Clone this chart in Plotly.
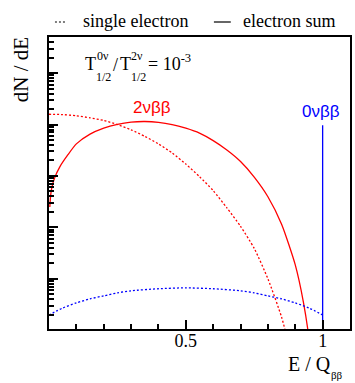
import plotly.graph_objects as go

# ---------------- data ----------------
# 2nu bb electron-sum spectrum (red solid)
sum2_E = [0.003, 0.006, 0.01, 0.02, 0.04, 0.07, 0.1, 0.15, 0.2, 0.25, 0.3, 0.35,
          0.4, 0.45, 0.5, 0.55, 0.6, 0.65, 0.7, 0.75, 0.8, 0.85, 0.9, 0.93, 0.95, 0.97]
sum2_y = [25, 42, 58, 90, 152, 262, 420, 650, 850, 1010, 1115, 1144,
          1105, 1000, 847, 680, 487, 320, 191, 95, 39.4, 11.5, 1.86, 0.346, 0.0703, 0.0058]

# 2nu bb single-electron spectrum (red dotted)
single2_E = [0.0, 0.05, 0.1, 0.15, 0.2, 0.25, 0.3, 0.35, 0.4, 0.45, 0.5, 0.55, 0.6,
             0.65, 0.7, 0.75, 0.8, 0.85, 0.87, 0.9]
single2_y = [1585, 1560, 1480, 1350, 1200, 1000, 790, 590, 420, 280, 170, 97, 52,
             24, 10.5, 3.9, 1.0, 0.18, 0.07, 0.01]

# 0nu bb single-electron spectrum (blue dotted)
single0_E = [0.0, 0.05, 0.1, 0.15, 0.2, 0.25, 0.3, 0.4, 0.5, 0.6, 0.7, 0.75, 0.8,
             0.85, 0.9, 0.95, 1.0]
single0_y = [0.198, 0.271, 0.340, 0.408, 0.466, 0.533, 0.585, 0.641, 0.667, 0.641,
             0.585, 0.533, 0.466, 0.408, 0.340, 0.271, 0.198]

# 0nu bb electron-sum peak (blue solid line at Q)
sum0_E = [1.0, 1.0]
sum0_y = [0.01, 967]

x_major = [0.5, 1.0]
x_major_text = ["0.5", "1"]
x_minor = [0.1, 0.2, 0.3, 0.4, 0.6, 0.7, 0.8, 0.9]
y_major = [1, 10, 100, 1000, 10000]
y_minor = [m * 10 ** d for d in range(-1, 5) for m in range(2, 10)]

# ---------------- figure ----------------
W, H = 355, 383
L, R, T, B = 49, 352, 37, 329
def px(x):
    return (x - L) / (R - L)
def py(y):
    return (B - y) / (B - T)

SERIF = "'Liberation Serif', 'Times New Roman', Times, 'DejaVu Serif', serif"
SANS = "'Liberation Sans', Arial, 'DejaVu Sans', sans-serif"

fig = go.Figure()
fig.add_trace(go.Scatter(x=sum2_E, y=sum2_y, mode="lines",
                         line=dict(color="#ff0000", width=1.3, shape="spline", smoothing=0.6)))
fig.add_trace(go.Scatter(x=single2_E, y=single2_y, mode="lines",
                         line=dict(color="#ff0000", width=1.3, dash="2px,2px",
                                   shape="spline", smoothing=0.6)))
fig.add_trace(go.Scatter(x=single0_E, y=single0_y, mode="lines",
                         line=dict(color="#0000ff", width=1.3, dash="2px,2px",
                                   shape="spline", smoothing=0.6)))
fig.add_trace(go.Scatter(x=sum0_E, y=sum0_y, mode="lines",
                         line=dict(color="#0000ff", width=1.3)))

fig.update_layout(
    width=W, height=H, showlegend=False,
    margin=dict(l=L, r=W - R, t=T, b=H - B, pad=0),
    paper_bgcolor="white", plot_bgcolor="white",
    font=dict(family=SERIF, size=18, color="black"),
)
fig.update_xaxes(range=[0, 1.1], showgrid=False, zeroline=False,
                 showline=True, linecolor="black", linewidth=2, mirror=True,
                 ticks="inside", ticklen=9, tickwidth=1.5, tickcolor="black",
                 tickmode="array", tickvals=x_major, ticktext=x_major_text,
                 tickfont=dict(family=SERIF, size=18), ticklabelstandoff=-6,
                 minor=dict(ticks="inside", ticklen=5, tickwidth=1.5, tickcolor="black",
                            tickmode="array", tickvals=x_minor))
fig.update_yaxes(type="log", range=[-0.976, 4.702], showgrid=False, zeroline=False,
                 showline=True, linecolor="black", linewidth=2, mirror=True,
                 ticks="inside", ticklen=9, tickwidth=1.5, tickcolor="black",
                 tickmode="array", tickvals=y_major, showticklabels=False,
                 minor=dict(ticks="inside", ticklen=5, tickwidth=1.5, tickcolor="black",
                            tickmode="array", tickvals=y_minor))

ann = []
def text(x, y, s, size=18, color="black", family=SERIF, xanchor="left", yanchor="middle", angle=0):
    ann.append(dict(x=px(x), y=py(y), xref="paper", yref="paper", text=s, showarrow=False,
                    xanchor=xanchor, yanchor=yanchor, textangle=angle, borderpad=0,
                    font=dict(family=family, size=size, color=color)))

# axis titles
text(21, 70, "dN / dE", size=21, xanchor="center", yanchor="middle", angle=-90)
text(334, 364, "E / Q", size=20, xanchor="right")
text(332, 375, "ββ", size=11, xanchor="left")

# series labels
text(153, 108, "2νββ", size=17, color="#ff0000", family=SANS, xanchor="center")
text(323, 111, "0νββ", size=17, color="#0000ff", family=SANS, xanchor="center")

# half-life ratio text
text(84, 64, "T", size=18)
text(96, 56, "0ν", size=12)
text(95, 77, "1/2", size=12)
text(112, 65, "/", size=18)
text(119, 64, "T", size=18)
text(131, 56, "2ν", size=12)
text(131, 77, "1/2", size=12)
text(148, 62, "= 10<sup>-3</sup>", size=18)

# legend
text(82, 21, "single electron", size=18)
text(243, 21, "electron sum", size=18)
fig.update_layout(annotations=ann)
fig.add_shape(type="line", xref="paper", yref="paper", x0=px(55), x1=px(67), y0=py(22), y1=py(22),
              line=dict(color="black", width=1.2, dash="2px,2px"))
fig.add_shape(type="line", xref="paper", yref="paper", x0=px(215), x1=px(232), y0=py(22), y1=py(22),
              line=dict(color="black", width=1.2))

fig.write_html("out.html")
